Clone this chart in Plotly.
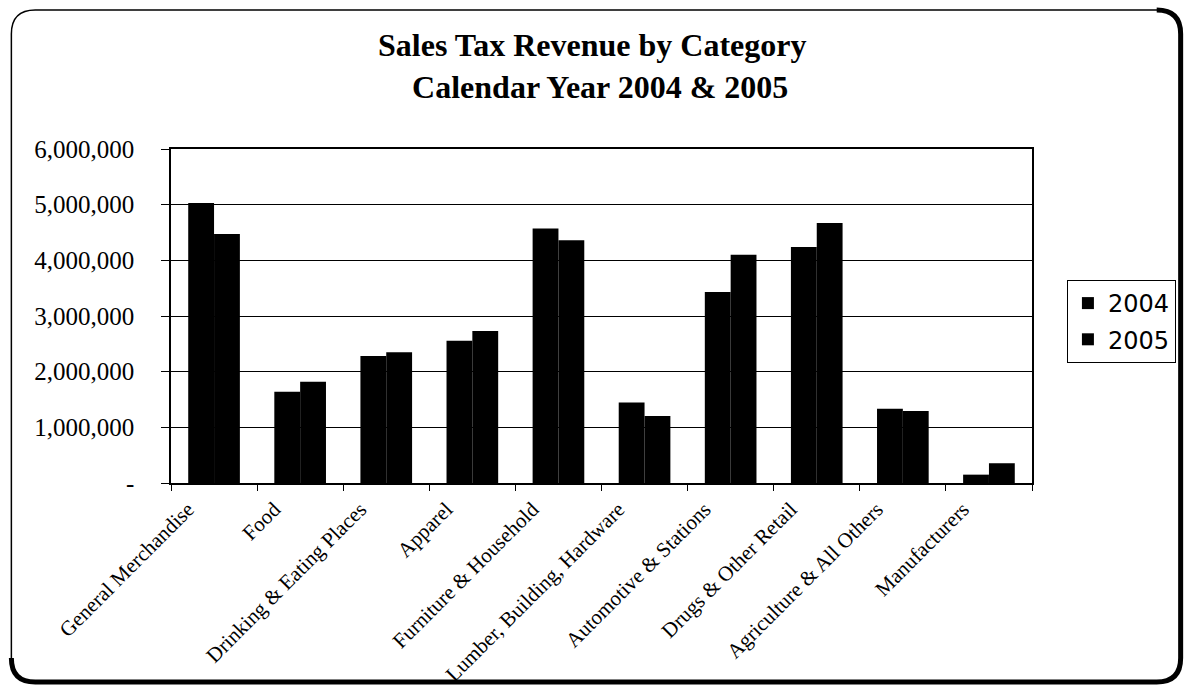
import plotly.graph_objects as go

# Sales tax revenue by category, calendar years 2004 and 2005
categories = [
    "General Merchandise",
    "Food",
    "Drinking & Eating Places",
    "Apparel",
    "Furniture & Household",
    "Lumber, Building, Hardware",
    "Automotive & Stations",
    "Drugs & Other Retail",
    "Agriculture & All Others",
    "Manufacturers",
]
sales_2004 = [5030000, 1640000, 2280000, 2555000, 4570000,
              1445000, 3430000, 4240000, 1335000, 150000]
sales_2005 = [4475000, 1820000, 2350000, 2730000, 4360000,
              1205000, 4100000, 4670000, 1295000, 355000]

y_tick_values = [0, 1000000, 2000000, 3000000, 4000000, 5000000, 6000000]
y_tick_labels = ["-", "1,000,000", "2,000,000", "3,000,000",
                 "4,000,000", "5,000,000", "6,000,000"]

W, H = 1188, 687
PLOT_L, PLOT_R, PLOT_T, PLOT_B = 171, 1034, 149, 483


def px(x):
    """Pixel x -> paper x."""
    return (x - PLOT_L) / (PLOT_R - PLOT_L)


def py(y):
    """Pixel y (from top) -> paper y."""
    return (PLOT_B - y) / (PLOT_B - PLOT_T)


fig = go.Figure()
fig.add_trace(go.Bar(
    name="2004", x=categories, y=sales_2004, legendgroup="a",
    marker=dict(color="black", line=dict(width=0)),
))
fig.add_trace(go.Bar(
    name="2005", x=categories, y=sales_2005, legendgroup="b",
    marker=dict(color="black", line=dict(width=0)),
))

# rounded frame around the whole chart: thin outline plus heavy right/bottom edge
L, R, T, B, r = 11, 1183, 10, 682, 24


def pt(x, y):
    return f"{px(x):.5f},{py(y):.5f}"


frame = (f"M {pt(L + r, T)} L {pt(R - r, T)} Q {pt(R, T)} {pt(R, T + r)} "
         f"L {pt(R, B - r)} Q {pt(R, B)} {pt(R - r, B)} L {pt(L + r, B)} "
         f"Q {pt(L, B)} {pt(L, B - r)} L {pt(L, T + r)} Q {pt(L, T)} {pt(L + r, T)} Z")
heavy = (f"M {pt(R - r, T)} Q {pt(R, T)} {pt(R, T + r)} L {pt(R, B - r)} "
         f"Q {pt(R, B)} {pt(R - r, B)} L {pt(L + r, B)} Q {pt(L, B)} {pt(L, B - r)}")

shapes = [
    dict(type="path", xref="paper", yref="paper", path=frame,
         line=dict(color="black", width=1.5), layer="above"),
    dict(type="path", xref="paper", yref="paper", path=heavy,
         line=dict(color="black", width=5), layer="above"),
]

title_font = dict(family="Liberation Serif", size=32, color="black", weight="bold")
annotations = [
    dict(text="Sales Tax Revenue by Category<br>&nbsp;&nbsp;Calendar Year 2004 & 2005",
         xref="paper", yref="paper",
         x=px(593), y=py(66), xanchor="center", yanchor="middle", align="center",
         showarrow=False, font=title_font),
]

fig.update_layout(
    width=W, height=H, autosize=False,
    margin=dict(l=PLOT_L, r=W - PLOT_R, t=PLOT_T, b=H - PLOT_B, pad=0),
    paper_bgcolor="white", plot_bgcolor="white",
    barmode="group", bargap=0.4, bargroupgap=0,
    shapes=shapes, annotations=annotations,
    legend=dict(
        x=px(1069), y=py(280), xanchor="left", yanchor="top",
        bordercolor="black", borderwidth=1, bgcolor="white",
        font=dict(family="DejaVu Sans", size=24, color="black"),
        tracegroupgap=2,
    ),
    showlegend=True,
)

fig.update_xaxes(
    type="category", automargin=False,
    showline=True, linecolor="black", linewidth=1.5, mirror=True,
    ticks="outside", tickson="boundaries", ticklen=6, tickcolor="black",
    tickangle=-45, showgrid=False,
    ticklabelshift=-26, ticklabelstandoff=4,
    tickfont=dict(family="Liberation Serif", size=21, color="black"),
)
fig.update_yaxes(
    range=[0, 6000000], automargin=False,
    tickvals=y_tick_values, ticktext=y_tick_labels,
    showgrid=True, gridcolor="black", gridwidth=1,
    showline=True, linecolor="black", linewidth=1.5, mirror=True,
    ticks="outside", ticklen=8, tickcolor="black",
    ticklabelstandoff=22, zeroline=False,
    tickfont=dict(family="Liberation Serif", size=25, color="black"),
)

fig.write_html("out.html")
